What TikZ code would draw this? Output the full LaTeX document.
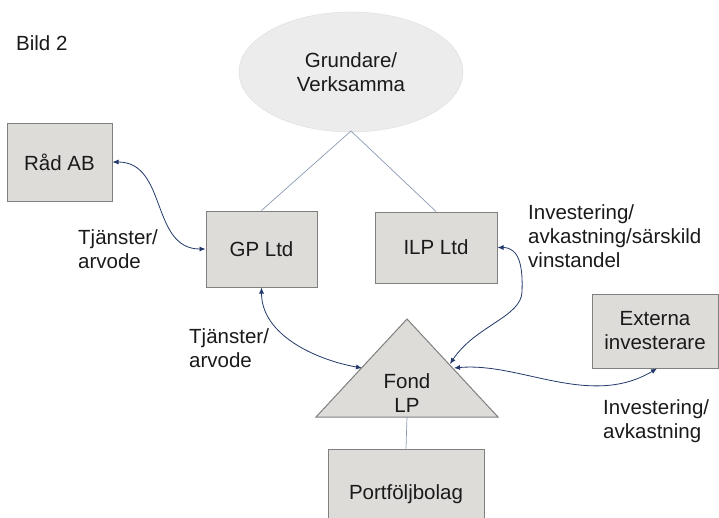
\documentclass[tikz,border=0pt]{standalone}
\usepackage{fontspec}
\setmainfont{Liberation Sans}
\usetikzlibrary{arrows.meta,shapes.geometric}
\definecolor{boxfill}{HTML}{DDDCD9}
\definecolor{boxline}{HTML}{808080}
\definecolor{ovalfill}{HTML}{ECECEC}
\definecolor{ovalline}{HTML}{DCDCDC}
\definecolor{flow}{HTML}{22396A}
\definecolor{link}{HTML}{8A9AB2}
\definecolor{ink}{HTML}{1A1A1A}
\tikzset{
  txt/.style={font=\fontsize{20.5}{24}\selectfont, text=ink},
  entity/.style={txt, draw=boxline, fill=boxfill, line width=1pt, inner sep=0pt, align=center},
  label/.style={txt, align=left, anchor=west, inner sep=0pt},
  owner/.style={draw=link, line width=0.7pt},
  flowline/.style={draw=flow, line width=0.8pt, {Latex[length=6pt,width=5pt]}-{Latex[length=6pt,width=5pt]}}
}
\begin{document}
\begin{tikzpicture}[x=1pt,y=-1pt]
\useasboundingbox (0,0) rectangle (719,517);
\clip (0,0) rectangle (719,517);

% founder oval
\node[txt, ellipse, draw=ovalline, fill=ovalfill, minimum width=224pt, minimum height=120pt, inner sep=0pt, align=center]
  (grund) at (351,72) {Grundare/\\Verksamma};

% boxes
\node[entity, minimum width=105pt, minimum height=78pt] (rad) at (59.5,162) {Råd AB};
\node[entity, minimum width=111pt, minimum height=76pt] (gp) at (261.5,249) {GP Ltd};
\node[entity, minimum width=122pt, minimum height=71pt] (ilp) at (436,247.5) {ILP Ltd};
\node[entity, minimum width=126pt, minimum height=74pt] (ext) at (655,331) {Externa\\investerare};
\node[entity, minimum width=156pt, minimum height=90pt] (port) at (406,494) {Portföljbolag};

% fund triangle
\coordinate (apex) at (407,319);
\coordinate (bl) at (316,417);
\coordinate (br) at (498,417);
\draw[draw=boxline, fill=boxfill, line width=1pt] (apex) -- (bl) -- (br) -- cycle;
\node[txt, align=center, inner sep=0pt] (fond) at (407,393.5) {Fond\\LP};
\coordinate (fondtop) at (407,417);
\coordinate (fondL) at (362,368);
\coordinate (fondR1) at (450,364);
\coordinate (fondR2) at (454,368);

% ownership lines
\coordinate (ovalbase) at (351,131);
\draw[owner] (ovalbase) -- (gp.north);
\draw[owner] (ovalbase) -- (ilp.north);
\draw[owner] (fondtop) -- (port.north);

% flows
\draw[flowline] (rad.east) .. controls +(55,0) and +(-55,0) .. (gp.west);
\draw[flowline] (gp.south) .. controls +(0,48) and +(-45,-8) .. (fondL);
\coordinate (bend) at (522,292);
\draw[flowline] (ilp.east) .. controls +(22,0) and +(1,-25) .. (bend)
  .. controls +(-1,25) and +(25,-38) .. (fondR1);
\draw[flowline] (fondR2) .. controls +(66,-6) and +(-67,40) .. ([xshift=2pt]ext.south);

% labels
\node[label] (bild) at (16,43) {Bild 2};
\node[label] (tj1) at (78,249.5) {Tjänster/\\arvode};
\node[label] (tj2) at (189,348.5) {Tjänster/\\arvode};
\node[label] (inv1) at (528,236) {Investering/\\avkastning/särskild\\vinstandel};
\node[label] (inv2) at (603,421) {Investering/\\avkastning};
\end{tikzpicture}
\end{document}
